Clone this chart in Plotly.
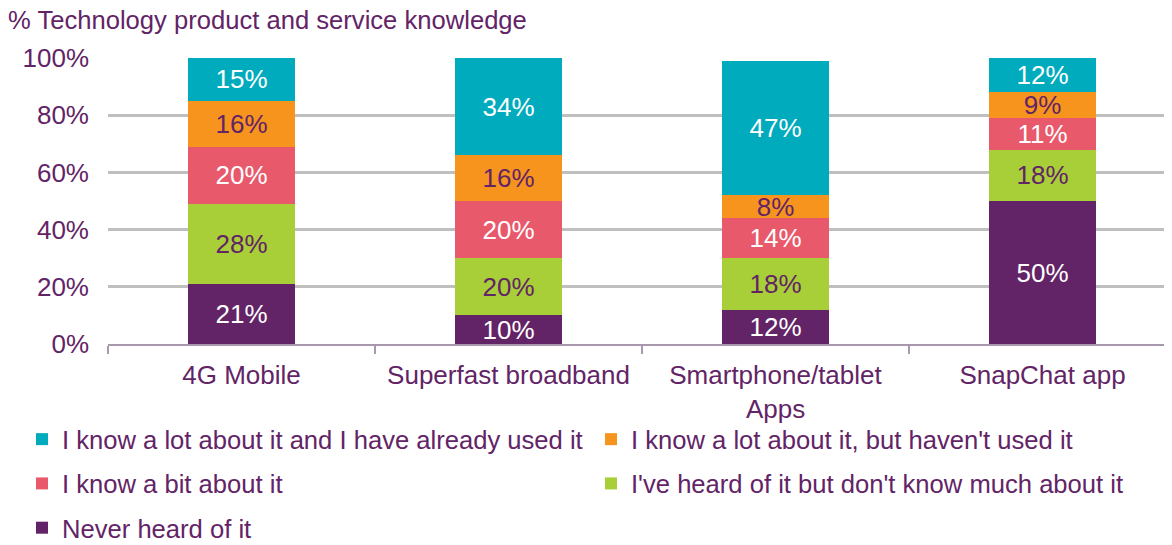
import plotly.graph_objects as go

categories = ["4G Mobile", "Superfast broadband", "Smartphone/tablet<br>Apps", "SnapChat app"]

# series, bottom to top of each stack
never_heard = [21, 10, 12, 50]
heard_not_much = [28, 20, 18, 18]
know_bit = [20, 20, 14, 11]
know_lot_not_used = [16, 16, 8, 9]
know_lot_used = [15, 34, 47, 12]

series_names = [
    "Never heard of it",
    "I've heard of it but don't know much about it",
    "I know a bit about it",
    "I know a lot about it, but haven't used it",
    "I know a lot about it and I have already used it",
]
series_values = [never_heard, heard_not_much, know_bit, know_lot_not_used, know_lot_used]
series_colors = ["#622466", "#A8CE38", "#E8596B", "#F7941E", "#00ABBD"]
label_colors = ["#FFFFFF", "#622466", "#FFFFFF", "#622466", "#FFFFFF"]
legend_cols = ["legend", "legend2", "legend", "legend2", "legend"]
legend_ranks = [5, 4, 3, 2, 1]

PURPLE = "#622466"
FONT = "Liberation Sans, Arial, sans-serif"
FS = 26
FS_TXT = 25.6

fig = go.Figure()
for i, (name, vals, col, lcol, lg, rk) in enumerate(
        zip(series_names, series_values, series_colors, label_colors, legend_cols, legend_ranks)):
    fig.add_trace(go.Bar(
        x=categories, y=vals, name=name,
        marker=dict(color=col, line=dict(width=0)),
        width=0.4,
        text=[f"{v}%" for v in vals], texttemplate="%{text}",
        textposition="inside", insidetextanchor="middle",
        textangle=0, constraintext="none",
        textfont=dict(color=lcol, size=FS, family=FONT),
        legend=lg, legendgroup=f"g{i}", legendrank=rk, hoverinfo="skip",
    ))

# page is offset by the 8px default body margin
W, H = 1164, 537
left, top, bottom = 100, 50, 201
plot_w = W - left
cat_px = 267.0

legend_common = dict(
    orientation="v", xref="paper", yref="container",
    xanchor="left", yanchor="top", traceorder="grouped",
    tracegroupgap=8,
    font=dict(size=FS_TXT, color=PURPLE, family=FONT),
    bgcolor="rgba(0,0,0,0)", itemclick=False, itemdoubleclick=False,
)

fig.update_layout(
    width=W, height=H,
    margin=dict(l=left, r=0, t=top, b=bottom, pad=0),
    paper_bgcolor="white", plot_bgcolor="white",
    barmode="stack",
    font=dict(family=FONT, color=PURPLE, size=FS),
    title=dict(text="% Technology product and service knowledge",
               x=0, xanchor="left", xref="container",
               y=(H - 12) / H, yanchor="middle", yref="container",
               font=dict(size=FS_TXT, color=PURPLE, family=FONT)),
    xaxis=dict(
        type="category", automargin=False,
        range=[-0.5, -0.5 + plot_w / cat_px],
        showgrid=False, zeroline=False,
        showline=True, linecolor="#A898AE", linewidth=1.5,
        ticks="outside", tickson="boundaries", ticklen=8, tickcolor="#A898AE", tickwidth=1.5,
        ticklabelstandoff=7,
        tickfont=dict(size=FS, color=PURPLE, family=FONT),
    ),
    yaxis=dict(
        range=[0, 100], tickvals=[0, 20, 40, 60, 80, 100], automargin=False,
        ticktext=["0%", "20%", "40%", "60%", "80%", "100%"],
        showgrid=True, gridcolor="#BFBFBF", gridwidth=2.5,
        zeroline=False, showline=False, ticks="",
        ticklabelstandoff=18,
        tickfont=dict(size=FS, color=PURPLE, family=FONT),
    ),
    legend=dict(x=(14 - left) / plot_w, y=(H - 408) / H, **legend_common),
    legend2=dict(x=(583 - left) / plot_w, y=(H - 408) / H, **legend_common),
)

fig.write_html("out.html")
